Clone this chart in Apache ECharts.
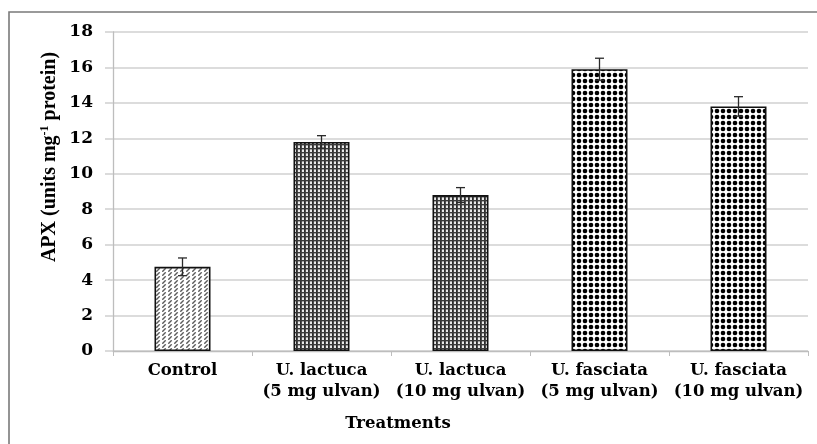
<!DOCTYPE html>
<html><head><meta charset="utf-8">
<script src="https://cdn.jsdelivr.net/npm/echarts@6/dist/echarts.min.js"></script>
<style>html,body{margin:0;padding:0;background:#fff}#c{width:817px;height:444px}</style>
</head><body><div id="c"></div>
<script>
const categories = ['Control', 'U. lactuca\n(5 mg ulvan)', 'U. lactuca\n(10 mg ulvan)', 'U. fasciata\n(5 mg ulvan)', 'U. fasciata\n(10 mg ulvan)'];
const apxValues = [4.75, 11.8, 8.8, 15.9, 13.8];
const apxErrors = [0.5, 0.35, 0.42, 0.62, 0.55];
const patternKinds = ['hatch', 'grid', 'grid', 'dots', 'dots'];
const yMin = 0, yMax = 18, yStep = 2;

function makePattern(kind) {
  const c = document.createElement('canvas');
  const ctx = c.getContext('2d');
  if (kind === 'hatch') {
    c.width = 6; c.height = 4;
    ctx.fillStyle = '#fff'; ctx.fillRect(0, 0, 6, 4);
    ctx.strokeStyle = '#5a5a5a'; ctx.lineWidth = 1.4;
    ctx.beginPath(); ctx.moveTo(0.3, 3.7); ctx.lineTo(3.7, 0.3); ctx.stroke();
  } else if (kind === 'grid') {
    c.width = 4; c.height = 4;
    ctx.fillStyle = '#e8e8e8'; ctx.fillRect(0, 0, 4, 4);
    ctx.fillStyle = '#2a2a2a'; ctx.fillRect(0, 0, 1.8, 4);
    ctx.fillStyle = '#3a3a3a'; ctx.fillRect(0, 0, 4, 1.4);
  } else {
    c.width = 6; c.height = 6;
    ctx.fillStyle = '#fff'; ctx.fillRect(0, 0, 6, 6);
    ctx.fillStyle = '#000';
    ctx.beginPath(); ctx.arc(3, 3, 2.3, 0, Math.PI * 2); ctx.fill();
  }
  return { image: c, repeat: 'repeat' };
}

const FONT = '"DejaVu Serif", "Liberation Serif", serif';
const TFONT = '"Liberation Serif", "Times New Roman", serif';
const chart = echarts.init(document.getElementById('c'), null, { renderer: 'canvas' });
chart.setOption({
  animation: false,
  backgroundColor: '#fff',
  grid: { left: 113, right: 9, top: 32, bottom: 93 },
  xAxis: {
    type: 'category',
    data: categories,
    axisLine: { show: true, lineStyle: { color: '#bdbdbd', width: 1.3 } },
    axisTick: { show: true, length: 5, lineStyle: { color: '#bdbdbd' } },
    axisLabel: { interval: 0, color: '#000', fontFamily: FONT, fontWeight: 'bold', fontSize: 16.5, lineHeight: 21, margin: 9 },
    splitLine: { show: false }
  },
  yAxis: {
    type: 'value',
    min: yMin, max: yMax, interval: yStep,
    axisLine: { show: true, lineStyle: { color: '#bdbdbd', width: 1.3 } },
    axisTick: { show: true, length: 8, lineStyle: { color: '#cfcfcf', width: 1.5 } },
    axisLabel: { color: '#000', fontFamily: FONT, fontWeight: 'bold', fontSize: 17, margin: 20 },
    splitLine: { show: true, lineStyle: { color: '#d0d0d0', width: 1.5 } }
  },
  series: [
    {
      type: 'bar',
      barWidth: 56,
      data: apxValues.map((v, i) => ({
        value: v,
        itemStyle: { color: makePattern(patternKinds[i]), borderColor: '#111', borderWidth: 1.6 }
      })),
      z: 2
    },
    {
      type: 'custom',
      z: 5,
      data: apxValues.map((v, i) => [i, v - apxErrors[i], v + apxErrors[i]]),
      renderItem(params, api) {
        const x = api.value(0);
        const lo = api.coord([x, api.value(1)]);
        const hi = api.coord([x, api.value(2)]);
        const w = 9;
        const st = { stroke: '#2a2a2a', lineWidth: 1.3 };
        return {
          type: 'group',
          children: [
            { type: 'line', shape: { x1: hi[0], y1: hi[1], x2: lo[0], y2: lo[1] }, style: st },
            { type: 'line', shape: { x1: hi[0] - w / 2, y1: hi[1], x2: hi[0] + w / 2, y2: hi[1] }, style: st },
            { type: 'line', shape: { x1: lo[0] - w / 2, y1: lo[1], x2: lo[0] + w / 2, y2: lo[1] }, style: st }
          ]
        };
      }
    }
  ],
  graphic: [
    { type: 'polyline', shape: { points: [[9, 444], [9, 12], [817, 12]] }, style: { stroke: '#7a7a7a', lineWidth: 1.6, fill: null } },
    { type: 'text', x: 398, y: 424, style: { text: 'Treatments', fontFamily: FONT, fontWeight: 'bold', fontSize: 16.5, fill: '#000', align: 'center', verticalAlign: 'middle' } },
    {
      type: 'text', x: 50, y: 157, rotation: Math.PI / 2,
      style: {
        text: '{a|APX (units mg}{s|-1}{a| protein)}',
        align: 'center', verticalAlign: 'middle',
        rich: {
          a: { fontFamily: TFONT, fontWeight: 'bold', fontSize: 20, fill: '#000', lineHeight: 22 },
          s: { fontFamily: TFONT, fontWeight: 'bold', fontSize: 12, fill: '#000', verticalAlign: 'top', lineHeight: 22 }
        }
      }
    }
  ]
});
</script></body></html>
